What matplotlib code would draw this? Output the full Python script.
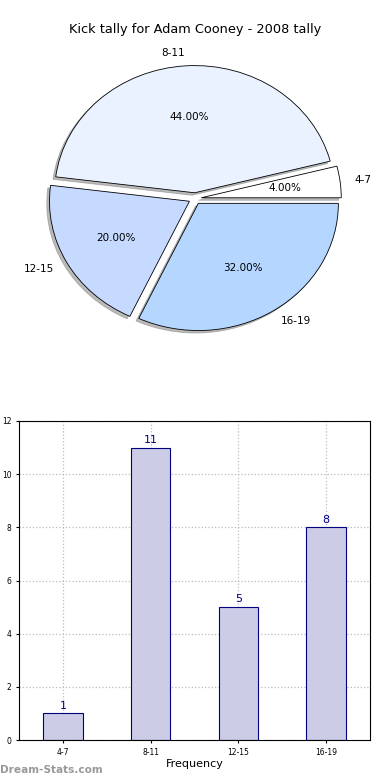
import numpy as np
import matplotlib
matplotlib.use("Agg")
import matplotlib.pyplot as plt

# data
categories = ["4-7", "8-11", "12-15", "16-19"]
counts = [1, 11, 5, 8]
pie_colors = ["#FFFFFF", "#EAF1FF", "#C6D9FF", "#B4D6FF"]

fig = plt.figure(figsize=(3.9, 7.8), dpi=100)

# pie chart (top)
ax1 = fig.add_axes([(195 - 175) / 390, (581.5 - 159) / 780, 350 / 390, 318 / 780])
wedges, texts, autotexts = ax1.pie(counts, labels=categories, colors=pie_colors,
                                   explode=[0.045] * 4,
                                   shadow=dict(ox=-0.014, oy=-0.014, color="#777777"),
                                   startangle=0,
                                   autopct="%1.2f%%", pctdistance=0.6,
                                   labeldistance=1.1,
                                   wedgeprops=dict(edgecolor="black", linewidth=0.6),
                                   textprops=dict(fontsize=7.5))
ax1.set_aspect("auto")
ax1.set_xlim(-1.25, 1.25)
ax1.set_ylim(-1.25, 1.25)
fig.text(0.5, 1 - 30 / 780, "Kick tally for Adam Cooney - 2008 tally",
         ha="center", va="center", fontsize=9.3)

# bar chart (bottom)
ax2 = fig.add_axes([19 / 390, 40 / 780, 351 / 390, 319 / 780])
x = np.arange(len(categories))
ax2.bar(x, counts, width=0.45, color="#CCCCE6", edgecolor="navy", linewidth=0.8, zorder=2)
for xi, c in zip(x, counts):
    ax2.text(xi, c + 0.1, str(c), ha="center", va="bottom", color="navy", fontsize=8)
ax2.set_xlim(-0.5, 3.5)
ax2.set_ylim(0, 12)
ax2.set_yticks(range(0, 13, 2))
ax2.set_xticks(x)
ax2.set_xticklabels(categories)
ax2.tick_params(labelsize=5.5, length=2)
ax2.grid(True, linestyle=":", color="#BBBBBB", linewidth=0.9, zorder=0)
ax2.set_axisbelow(True)
ax2.set_xlabel("Frequency", fontsize=8, labelpad=2)
ax2.set_ylabel("Statistical Tally", fontsize=7.5)
ax2.yaxis.set_label_coords(-0.055, 0.5)

fig.text(0.0, 1 - 770 / 780, "Dream-Stats.com", ha="left", va="center",
         fontsize=7.6, color="#999999", fontweight="bold")

fig.savefig("out.png", dpi=100)
